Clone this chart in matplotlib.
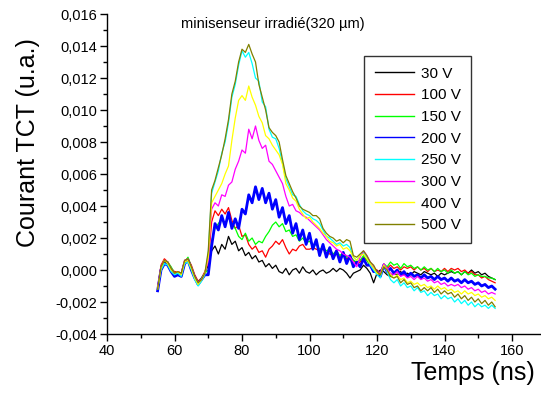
import numpy as np
import matplotlib
matplotlib.use("Agg")
import matplotlib.pyplot as plt
from matplotlib.ticker import FuncFormatter, MultipleLocator

plt.rcParams['font.family'] = ['Liberation Sans', 'DejaVu Sans']

# time axis (ns), sampled every 1 ns from 55 to 155
temps = np.arange(55, 156, 1)

labels = ["30 V", "100 V", "150 V", "200 V", "250 V", "300 V", "400 V", "500 V"]
colors = ["#000000", "#FF0000", "#00FF00", "#0000FF", "#00FFFF", "#FF00FF", "#FFFF00", "#808000"]

# currents in units of 1e-3 (u.a.)
v30 = [-1.2, 0.2, 0.5, 0.4, 0.0, -0.2, -0.1, -0.3, 0.5, 0.7,
       0.2, -0.4, -0.8, -0.6, -0.2, 0.3, 1.2, 1.5, 1.0, 1.6,
       1.3, 2.1, 1.6, 1.8, 1.2, 1.4, 0.9, 1.1, 0.7, 0.9,
       0.5, 0.6, 0.2, 0.4, 0.1, 0.3, -0.1, -0.2, 0.1, -0.3,
       0.0, 0.1, -0.2, 0.2, -0.1, -0.2, 0.0, -0.3, -0.1, 0.0,
       -0.2, -0.1, 0.1, -0.1, 0.1, 0.0, -0.2, -0.5, -0.2, -0.1,
       0.0, 0.3, 0.1, -0.2, -0.8, -0.2, 0.0, -0.1, -0.3, -0.4,
       -0.2, -0.3, -0.1, -0.3, -0.2, -0.3, -0.1, -0.2, -0.3, -0.1,
       -0.2, -0.3, -0.2, -0.4, -0.2, -0.3, -0.2, -0.1, -0.2, -0.1,
       -0.3, -0.1, -0.2, 0.0, -0.2, -0.1, -0.3, -0.2, -0.4, -0.5,
       -0.6]
v100 = [-1.1, 0.3, 0.7, 0.5, 0.1, -0.1, -0.1, -0.2, 0.6, 0.7,
        0.3, -0.3, -0.7, -0.5, -0.1, 0.5, 3.0, 3.7, 3.4, 3.8,
        3.5, 3.9, 3.1, 2.6, 2.8, 2.1, 2.2, 1.6, 1.3, 1.5,
        1.1, 1.2, 0.8, 1.3, 1.5, 1.8, 1.6, 1.9, 1.4, 1.0,
        1.3, 1.2, 1.5, 1.6, 1.3, 1.3, 1.4, 1.3, 1.2, 1.3,
        1.1, 1.0, 0.9, 1.0, 0.8, 0.9, 0.7, 0.8, 0.6, 0.4,
        0.5, 0.8, 0.6, 0.3, 0.1, 0.0, -0.2, 0.3, 0.1, 0.3,
        0.1, 0.2, 0.0, 0.2, 0.1, 0.2, 0.0, 0.2, 0.0, 0.1,
        -0.1, 0.1, -0.1, 0.0, -0.1, 0.1, -0.1, 0.1, 0.0, 0.1,
        -0.1, 0.0, -0.2, -0.1, -0.3, -0.3, -0.5, -0.4, -0.6, -0.7,
        -0.8]
v150 = [-1.2, 0.1, 0.6, 0.5, 0.2, -0.2, -0.2, -0.3, 0.5, 0.8,
        0.2, -0.4, -0.8, -0.5, -0.2, 0.0, 1.8, 2.6, 2.9, 3.2,
        2.8, 3.3, 2.9, 2.6, 2.1, 1.9, 2.3, 1.8, 2.0, 1.6,
        1.8, 1.7, 2.1, 2.4, 2.8, 3.0, 2.7, 2.9, 2.4, 2.5,
        2.1, 2.2, 1.8, 2.0, 1.7, 1.8, 1.5, 1.6, 1.3, 1.4,
        1.2, 1.3, 1.0, 1.2, 0.9, 1.1, 0.8, 0.9, 0.6, 0.5,
        0.6, 0.9, 0.6, 0.3, 0.1, -0.1, -0.2, 0.4, 0.2, 0.5,
        0.3, 0.4, 0.1, 0.4, 0.2, 0.3, 0.1, 0.2, 0.0, 0.2,
        0.0, 0.1, -0.1, 0.1, -0.1, 0.0, -0.2, 0.0, -0.2, -0.1,
        -0.3, -0.1, -0.3, -0.2, -0.4, -0.3, -0.4, -0.4, -0.5, -0.5,
        -0.6]
v200 = [-1.3, 0.0, 0.4, 0.3, -0.1, -0.4, -0.3, -0.4, 0.4, 0.6,
        0.0, -0.5, -0.9, -0.6, -0.3, -0.3, 1.5, 2.9, 2.5, 3.4,
        2.7, 3.6, 2.6, 3.2, 2.6, 3.8, 3.5, 4.7, 4.2, 5.2,
        4.4, 5.1, 4.2, 4.8, 3.8, 4.4, 3.3, 3.9, 2.9, 3.4,
        2.3, 2.9, 1.9, 2.5, 1.6, 2.3, 1.3, 1.9, 0.9, 1.6,
        0.8, 1.4, 0.7, 1.2, 0.5, 1.1, 0.4, 0.9, 0.2, 0.5,
        0.2, 0.7, 0.3, 0.3, -0.1, -0.1, -0.4, 0.3, -0.1, 0.1,
        -0.2, 0.0, -0.3, -0.1, -0.4, -0.2, -0.4, -0.3, -0.5, -0.3,
        -0.5, -0.4, -0.6, -0.4, -0.6, -0.5, -0.7, -0.5, -0.7, -0.6,
        -0.8, -0.6, -0.8, -0.7, -0.9, -0.8, -1.0, -0.9, -1.1, -1.0,
        -1.2]
v250 = [-1.2, 0.0, 0.4, 0.3, -0.1, -0.3, -0.2, -0.4, 0.4, 0.5,
        0.0, -0.6, -1.0, -0.7, -0.3, 1.0, 4.8, 5.5, 6.2, 7.3,
        8.0, 9.2, 10.8, 11.6, 12.8, 13.7, 13.3, 13.6, 12.9, 12.0,
        11.8, 10.5, 10.2, 8.8, 8.3, 8.2, 7.6, 6.7, 5.7, 5.2,
        4.7, 4.6, 4.1, 3.7, 3.5, 3.4, 3.2, 3.1, 2.9, 2.5,
        2.1, 2.0, 1.8, 1.6, 1.7, 1.5, 1.6, 1.4, 0.8, 0.6,
        0.9, 1.1, 0.8, 0.3, 0.0, -0.3, -0.5, 0.3, -0.1, -0.6,
        -0.8, -0.6, -1.0, -0.8, -1.1, -1.0, -1.3, -1.1, -1.4, -1.3,
        -1.6, -1.4, -1.6, -1.5, -1.8, -1.6, -1.8, -1.7, -2.0, -1.8,
        -2.1, -1.9, -2.2, -2.0, -2.3, -2.1, -2.3, -2.2, -2.4, -2.2,
        -2.4]
v300 = [-1.1, 0.2, 0.6, 0.5, 0.1, -0.2, -0.1, -0.2, 0.6, 0.7,
        0.2, -0.4, -0.8, -0.6, -0.2, 0.6, 3.8, 4.2, 4.0, 4.7,
        4.6, 5.3, 5.5, 6.3, 6.8, 7.5, 7.3, 8.8, 8.2, 9.0,
        8.1, 7.6, 7.8, 6.8, 6.6, 6.2, 5.8, 5.4, 4.6, 4.0,
        4.1, 3.7, 3.6, 3.4, 3.3, 3.1, 2.9, 2.7, 2.5, 2.2,
        1.9, 1.7, 1.5, 1.3, 1.2, 1.0, 0.9, 0.8, 0.5, 0.2,
        0.8, 1.2, 0.9, 0.5, 0.2, -0.1, -0.2, 0.4, 0.1, -0.2,
        -0.3, -0.1, -0.4, -0.3, -0.5, -0.4, -0.6, -0.4, -0.6, -0.5,
        -0.7, -0.6, -0.8, -0.7, -0.9, -0.8, -1.0, -0.9, -1.0, -0.9,
        -1.1, -1.0, -1.2, -1.1, -1.3, -1.2, -1.4, -1.3, -1.5, -1.4,
        -1.5]
v400 = [-1.2, 0.1, 0.6, 0.4, 0.0, -0.2, -0.1, -0.3, 0.5, 0.6,
        0.1, -0.5, -0.9, -0.6, -0.2, 0.8, 4.2, 4.6, 5.0, 5.4,
        6.0, 6.5, 8.1, 9.5, 10.6, 10.9, 10.6, 11.5, 10.8, 10.3,
        9.6, 9.2, 8.4, 8.2, 7.8, 7.5, 7.2, 6.6, 5.4, 5.0,
        4.5, 4.3, 3.8, 3.5, 3.2, 3.3, 3.0, 2.8, 2.6, 2.3,
        2.1, 1.8, 1.7, 1.5, 1.6, 1.3, 1.4, 1.2, 0.8, 0.6,
        0.9, 1.0, 0.7, 0.4, 0.1, -0.2, -0.3, 0.3, 0.0, -0.3,
        -0.5, -0.3, -0.6, -0.5, -0.8, -0.7, -0.9, -0.8, -1.0, -0.9,
        -1.1, -1.0, -1.2, -1.0, -1.2, -1.1, -1.3, -1.2, -1.4, -1.3,
        -1.5, -1.3, -1.5, -1.4, -1.6, -1.5, -1.7, -1.6, -1.8, -1.7,
        -1.9]
v500 = [-1.2, 0.2, 0.6, 0.5, 0.1, -0.2, -0.1, -0.2, 0.6, 0.7,
        0.2, -0.4, -0.8, -0.6, -0.2, 1.2, 5.0, 5.6, 6.4, 7.2,
        8.2, 9.4, 11.0, 11.8, 13.0, 13.8, 13.6, 14.1, 13.5, 13.0,
        11.6, 10.8, 10.0, 8.9, 8.6, 8.4, 8.0, 6.9, 5.9, 5.4,
        4.9, 4.5, 4.0, 3.8, 3.7, 3.6, 3.4, 3.4, 3.2, 2.6,
        2.3, 2.1, 2.0, 1.8, 1.9, 1.7, 1.9, 1.8, 0.9, 0.8,
        1.0, 1.2, 0.9, 0.5, 0.3, -0.1, -0.3, 0.2, 0.0, -0.4,
        -0.5, -0.4, -0.8, -0.6, -0.9, -0.8, -1.1, -1.0, -1.3, -1.1,
        -1.3, -1.1, -1.4, -1.2, -1.5, -1.3, -1.5, -1.4, -1.7, -1.5,
        -1.8, -1.6, -1.9, -1.7, -2.0, -1.8, -2.1, -1.9, -2.2, -2.0,
        -2.3]

series = [v30, v100, v150, v200, v250, v300, v400, v500]

fig = plt.figure(figsize=(5.41, 3.94), dpi=100)
ax = fig.add_axes([107/541, 1-334/394, 1-107/541, (334-14)/394])

for vals, lab, col in zip(series, labels, colors):
    lw = 2.0 if lab == "200 V" else 0.9
    ax.plot(temps, np.array(vals) * 1e-3, color=col, lw=lw, label=lab)

ax.set_xlim(40, 40 + (541-107)/3.375)
ax.set_ylim(-0.004, 0.016)

ax.xaxis.set_major_locator(MultipleLocator(20))
ax.xaxis.set_minor_locator(MultipleLocator(10))
ax.yaxis.set_major_locator(MultipleLocator(0.002))
ax.yaxis.set_minor_locator(MultipleLocator(0.001))

def yfmt(v, pos):
    v = round(v, 6)
    if abs(v) < 1e-9:
        v = 0.0
    return f"{v:.3f}".replace('.', ',')

ax.yaxis.set_major_formatter(FuncFormatter(yfmt))
ax.xaxis.set_major_formatter(FuncFormatter(lambda v, p: f"{v:.0f}"))

for s in ['top', 'right']:
    ax.spines[s].set_visible(False)
for s in ['left', 'bottom']:
    ax.spines[s].set_linewidth(1.0)

ax.tick_params(which='major', direction='out', length=5, width=1, labelsize=10.5, pad=2)
ax.tick_params(which='minor', direction='out', length=3, width=1)

fig.text(28/541, 1-143/394, "Courant TCT (u.a.)", rotation=90, fontsize=18,
         ha='center', va='center')
fig.text(535/541, 1-373/394, "Temps (ns)", fontsize=18, ha='right', va='center')
fig.text(181/541, 1-24/394, "minisenseur irradié(320 µm)", fontsize=10.5,
         ha='left', va='center')

leg = ax.legend(loc='upper left', bbox_to_anchor=(364/541, 1-56/394),
                bbox_transform=fig.transFigure, frameon=True, fancybox=False,
                fontsize=11, handlelength=2.6, handletextpad=0.4,
                labelspacing=0.5, borderpad=0.7, borderaxespad=0)
leg.get_frame().set_edgecolor('black')
leg.get_frame().set_linewidth(1.0)
for line in leg.get_lines():
    line.set_linewidth(1.0)

fig.savefig("out.png", dpi=100)
